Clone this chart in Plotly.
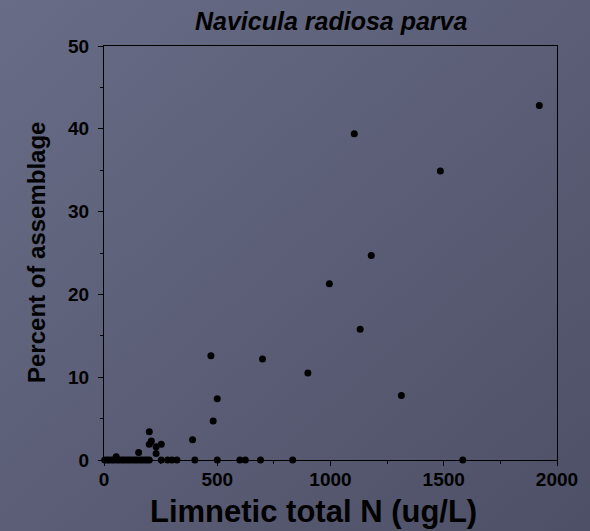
import base64
import plotly.graph_objects as go

# Limnetic total N (ug/L) and percent of assemblage for Navicula radiosa parva
total_n = [3, 14, 24, 36, 46, 58, 68, 80, 90, 102, 112, 124, 136, 146, 158, 168,
           180, 190, 200, 253, 281, 300, 322, 401, 500, 600, 624, 691, 833, 1584,
           54, 153, 200, 209, 200, 253, 230, 230, 391, 472, 482, 500, 700, 900,
           995, 1105, 1131, 1180, 1313, 1485, 1922]
percent = [0, 0, 0, 0, 0, 0, 0, 0, 0, 0, 0, 0, 0, 0, 0, 0,
           0, 0, 0, 0, 0, 0, 0, 0, 0, 0, 0, 0, 0, 0,
           0.4, 0.9, 3.4, 2.3, 1.9, 1.9, 1.6, 0.8, 2.45, 12.6, 4.7, 7.4, 12.2, 10.5,
           21.3, 39.4, 15.8, 24.7, 7.8, 34.9, 42.8]

x_ticks = [0, 500, 1000, 1500, 2000]
y_ticks = [0, 10, 20, 30, 40, 50]

FONT = "Arial, Liberation Sans, sans-serif"
W, H = 590, 531
L, R, T, B = 104, 33, 46, 71
PW, PH = W - L - R, H - T - B

# slate backdrop with a soft diagonal gradient
svg = (
    f'<svg xmlns="http://www.w3.org/2000/svg" width="{W}" height="{H}">'
    '<defs><linearGradient id="g" x1="0" y1="0" x2="1" y2="1">'
    '<stop offset="0" stop-color="#686c86"/>'
    '<stop offset="0.5" stop-color="#5b5e76"/>'
    '<stop offset="1" stop-color="#4d5066"/>'
    '</linearGradient></defs>'
    f'<rect width="{W}" height="{H}" fill="url(#g)"/></svg>'
)
bg_src = "data:image/svg+xml;base64," + base64.b64encode(svg.encode()).decode()

fig = go.Figure()
fig.add_trace(go.Scatter(
    x=total_n, y=percent, mode="markers",
    marker=dict(color="black", size=7, line=dict(width=0)),
    cliponaxis=False, showlegend=False,
))

axis_common = dict(
    showgrid=False, zeroline=False, showline=True, linecolor="black", linewidth=1.3,
    mirror=True, ticks="outside", ticklen=5, tickwidth=1.3, tickcolor="black",
    tickfont=dict(family=FONT, size=19, color="black", weight="bold"),
)
fig.update_xaxes(range=[0, 2000], tickvals=x_ticks, ticklabelstandoff=-3,
                 minor=dict(dtick=250, ticks="outside", ticklen=3, tickcolor="black", tickwidth=1.2),
                 **axis_common)
fig.update_yaxes(range=[0, 50], tickvals=y_ticks, ticklabelstandoff=5,
                 minor=dict(dtick=5, ticks="outside", ticklen=3, tickcolor="black", tickwidth=1.2),
                 **axis_common)

fig.add_layout_image(dict(
    source=bg_src, xref="paper", yref="paper",
    x=-L / PW, y=1 + T / PH, sizex=W / PW, sizey=H / PH,
    xanchor="left", yanchor="top", sizing="stretch", layer="below",
))

fig.add_annotation(text="<b><i>Navicula radiosa parva</i></b>", xref="paper", yref="paper",
                   x=0.5, y=1 + (T - 21) / PH, yanchor="middle", showarrow=False,
                   font=dict(family=FONT, size=25, color="black"))
fig.add_annotation(text="<b>Limnetic total N (ug/L)</b>", xref="paper", yref="paper",
                   x=(313 - L) / PW, y=-(511 - (H - B)) / PH, yanchor="middle", showarrow=False,
                   font=dict(family=FONT, size=31, color="black"))
fig.add_annotation(text="<b>Percent of assemblage</b>", xref="paper", yref="paper",
                   x=(36 - L) / PW, y=0.5, textangle=-90, xanchor="center", yanchor="middle",
                   showarrow=False, font=dict(family=FONT, size=24, color="black"))

fig.update_layout(
    width=W, height=H,
    margin=dict(l=L, r=R, t=T, b=B),
    paper_bgcolor="#5b5e76", plot_bgcolor="rgba(0,0,0,0)",
    font=dict(family=FONT, color="black"),
)

fig.write_html("out.html")
